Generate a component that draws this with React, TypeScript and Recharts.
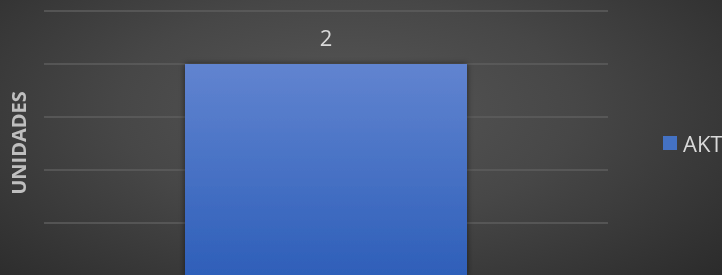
import React from 'react';
import { BarChart, Bar, XAxis, YAxis, CartesianGrid, Legend, LabelList } from 'recharts';

const categories = ['AKT'];
const seriesName = 'AKT';
const seriesValues = [2];
const yTicks = [0, 0.5, 1, 1.5, 2, 2.5];
const yTitle = 'UNIDADES';

const data = categories.map((c, i) => ({ name: c, value: seriesValues[i] }));

const font = '"Open Sans", "Noto Sans", sans-serif';

const AxisTitle = () => (
  <text
    x={26}
    y={143}
    transform="rotate(-90 26 143)"
    textAnchor="middle"
    fill="#bfbfbf"
    fontSize={20}
    fontWeight={700}
    fontFamily={font}
  >
    {yTitle}
  </text>
);

// the reference shows no tick values, only the gridlines
const NoTick = () => <g />;

const LegendBox = () => (
  <div style={{ display: 'flex', alignItems: 'center', fontFamily: font, fontSize: 22, color: '#d9d9d9', whiteSpace: 'nowrap' }}>
    <span style={{ display: 'inline-block', width: 14, height: 14, background: '#4472c4', marginRight: 6 }} />
    <span>{seriesName}</span>
  </div>
);

export default function App() {
  return (
    <div
      style={{
        position: 'fixed',
        top: 0,
        left: 0,
        width: 722,
        height: 275,
        overflow: 'hidden',
        background: 'radial-gradient(ellipse 70% 90% at 48% 40%, #575757 0%, #474747 45%, #2b2b2b 100%)',
      }}
    >
      <BarChart
        width={722}
        height={285}
        data={data}
        margin={{ top: 11, right: 114, left: 0, bottom: 9 }}
        barCategoryGap="25%"
      >
        <defs>
          <linearGradient id="barFill" x1="0" y1="0" x2="0" y2="1">
            <stop offset="0%" stopColor="#6184d0" />
            <stop offset="100%" stopColor="#2e5fb9" />
          </linearGradient>
          <filter id="barShadow" x="-10%" y="-10%" width="120%" height="120%">
            <feDropShadow dx="0" dy="0" stdDeviation="3" floodColor="#000" floodOpacity="0.55" />
          </filter>
        </defs>
        <CartesianGrid vertical={false} stroke="#5e5e5e" strokeWidth={1.5} />
        <XAxis dataKey="name" hide />
        <YAxis
          width={44}
          domain={[0, 2.5]}
          ticks={yTicks}
          interval={0}
          tick={<NoTick />}
          axisLine={false}
          tickLine={false}
          label={<AxisTitle />}
        />
        <Legend
          content={<LegendBox />}
          layout="horizontal"
          verticalAlign="middle"
          align="center"
          wrapperStyle={{ left: 663, top: 128, width: 80 }}
        />
        <Bar
          dataKey="value"
          name={seriesName}
          fill="url(#barFill)"
          filter="url(#barShadow)"
          isAnimationActive={false}
        >
          <LabelList
            dataKey="value"
            position="top"
            offset={18}
            fill="#d9d9d9"
            fontSize={22}
            fontFamily={font}
          />
        </Bar>
      </BarChart>
    </div>
  );
}
